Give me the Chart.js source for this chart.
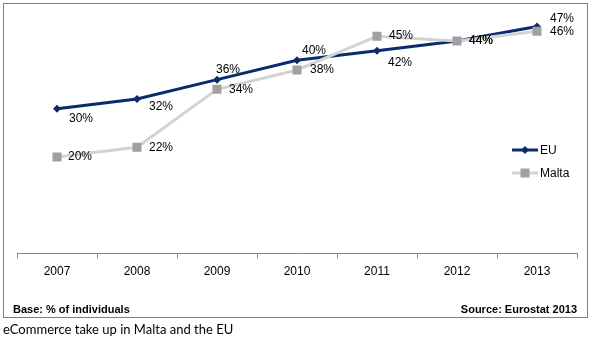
<!DOCTYPE html>
<html>
<head>
<meta charset="utf-8">
<script src="https://cdn.jsdelivr.net/npm/chart.js@4"></script>
<style>
  html, body { margin: 0; padding: 0; background: #fff; }
  #wrap { position: relative; width: 591px; height: 341px; }
  #frame { position: absolute; left: 3px; top: 3px; width: 583px; height: 313px; border: 1px solid #7f7f7f; }
  #chart { position: absolute; left: 0; top: 0; }
  .note { position: absolute; top: 303px; font: bold 11px "Liberation Sans Narrow", "Liberation Sans", Arial, sans-serif; color: #000; }
  #base { left: 13px; }
  #source { right: 14px; }
  #caption { position: absolute; left: 3px; top: 321px; font: 13px Lato, "Open Sans", sans-serif; color: #000; }
</style>
</head>
<body>
<div id="wrap">
  <div id="frame"></div>
  <canvas id="chart" width="591" height="341"></canvas>
  <div class="note" id="base">Base: % of individuals</div>
  <div class="note" id="source">Source: Eurostat 2013</div>
  <div id="caption">eCommerce take up in Malta and the EU</div>
</div>
<script>
const years = ['2007', '2008', '2009', '2010', '2011', '2012', '2013'];
const euValues = [30, 32, 36, 40, 42, 44, 47];
const maltaValues = [20, 22, 34, 38, 45, 44, 46];

// label offsets (px) from each point, per series
const euLabelOffsets = [[12, 10], [12, 8], [-1, -10], [5, -10], [11, 12], [12, 0], [13, -8]];
const maltaLabelOffsets = [[11, 0], [12, 0], [12, 0], [13, 0], [12, 0], [12, 0], [13, 0]];

const EU_BLUE = '#0b2c6b';
const MALTA_LINE = '#d3d3d3';
const MALTA_MARK = '#a0a0a0';

Chart.defaults.font.family = '"Liberation Sans", Arial, sans-serif';
Chart.defaults.font.size = 12;
Chart.defaults.color = '#000';

const valueLabels = {
  id: 'valueLabels',
  afterDatasetsDraw(chart) {
    const ctx = chart.ctx;
    ctx.save();
    ctx.font = '12px "Liberation Sans", Arial, sans-serif';
    ctx.fillStyle = '#000';
    ctx.textAlign = 'left';
    ctx.textBaseline = 'middle';
    chart.data.datasets.forEach((ds, i) => {
      const meta = chart.getDatasetMeta(i);
      meta.data.forEach((pt, j) => {
        const off = ds.labelOffsets[j];
        ctx.fillText(ds.data[j] + '%', pt.x + off[0], pt.y + off[1]);
      });
    });
    ctx.restore();
  }
};

const sideLegend = {
  id: 'sideLegend',
  afterDraw(chart) {
    const ctx = chart.ctx;
    const x0 = chart.chartArea.right - 65;
    const rows = [
      { label: 'EU', y: 150, line: EU_BLUE, mark: 'diamond' },
      { label: 'Malta', y: 173, line: MALTA_LINE, mark: 'square' }
    ];
    ctx.save();
    ctx.font = '12px "Liberation Sans", Arial, sans-serif';
    ctx.textBaseline = 'middle';
    rows.forEach(r => {
      ctx.strokeStyle = r.line;
      ctx.lineWidth = 3;
      ctx.beginPath();
      ctx.moveTo(x0, r.y);
      ctx.lineTo(x0 + 26, r.y);
      ctx.stroke();
      const cx = x0 + 13;
      if (r.mark === 'diamond') {
        ctx.fillStyle = EU_BLUE;
        ctx.beginPath();
        ctx.moveTo(cx, r.y - 4);
        ctx.lineTo(cx + 4, r.y);
        ctx.lineTo(cx, r.y + 4);
        ctx.lineTo(cx - 4, r.y);
        ctx.closePath();
        ctx.fill();
      } else {
        ctx.fillStyle = MALTA_MARK;
        ctx.fillRect(cx - 4.5, r.y - 4.5, 9, 9);
      }
      ctx.fillStyle = '#000';
      ctx.fillText(r.label, x0 + 28, r.y + 1);
    });
    ctx.restore();
  }
};

new Chart(document.getElementById('chart'), {
  type: 'line',
  data: {
    labels: years,
    datasets: [
      {
        label: 'Malta',
        data: maltaValues,
        labelOffsets: maltaLabelOffsets,
        borderColor: MALTA_LINE,
        borderWidth: 3,
        pointStyle: 'rect',
        pointRadius: 6.4,
        pointBackgroundColor: MALTA_MARK,
        pointBorderWidth: 0,
        tension: 0
      },
      {
        label: 'EU',
        data: euValues,
        labelOffsets: euLabelOffsets,
        borderColor: EU_BLUE,
        borderWidth: 3,
        pointStyle: 'rectRot',
        pointRadius: 4,
        pointBackgroundColor: EU_BLUE,
        pointBorderWidth: 0,
        tension: 0
      }
    ]
  },
  options: {
    responsive: false,
    animation: false,
    layout: { padding: { left: 17, right: 14, top: 12, bottom: 56 } },
    plugins: {
      legend: { display: false },
      tooltip: { enabled: false }
    },
    scales: {
      x: {
        offset: true,
        grid: { offset: true, drawOnChartArea: false, tickLength: 5, color: '#888' },
        border: { color: '#888' },
        ticks: { padding: 6, color: '#000' }
      },
      y: { display: false, min: 0, max: 50 }
    }
  },
  plugins: [valueLabels, sideLegend]
});
</script>
</body>
</html>
